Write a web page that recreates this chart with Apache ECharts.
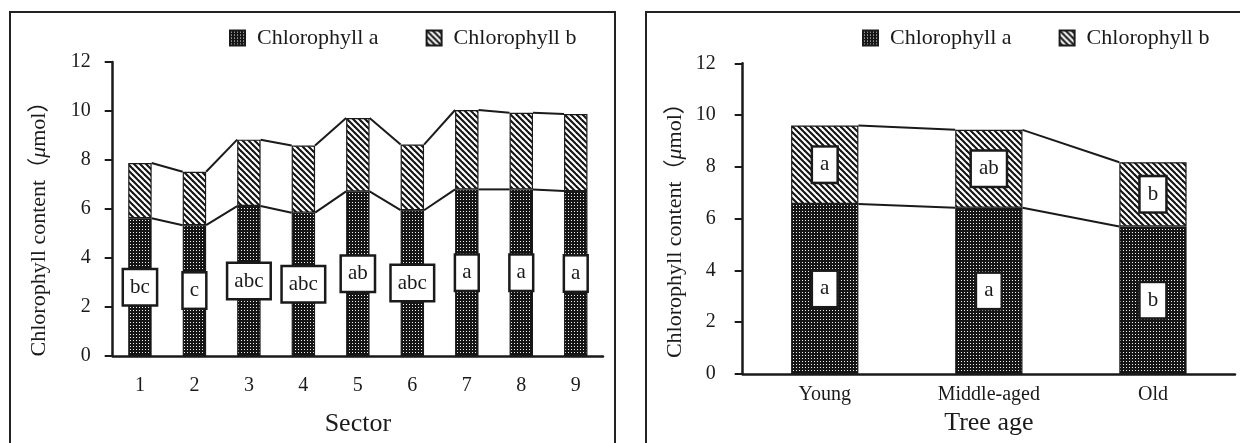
<!DOCTYPE html>
<html>
<head>
<meta charset="utf-8">
<script src="https://cdn.jsdelivr.net/npm/echarts@6/dist/echarts.min.js"></script>
<style>
  html, body { margin: 0; padding: 0; background: #fff; }
  #chart { width: 1240px; height: 443px; }
</style>
</head>
<body>
<div id="chart"></div>
<script>
// ---------- Data ----------
const sectors = ['1', '2', '3', '4', '5', '6', '7', '8', '9'];
const sectorChlA = [5.62, 5.34, 6.12, 5.85, 6.72, 5.95, 6.80, 6.80, 6.73];
const sectorChlB = [2.26, 2.18, 2.71, 2.74, 2.99, 2.68, 3.24, 3.13, 3.15];
const sectorLettersA = ['bc', 'c', 'abc', 'abc', 'ab', 'abc', 'a', 'a', 'a'];

const ages = ['Young', 'Middle-aged', 'Old'];
const ageChlA = [6.57, 6.42, 5.70];
const ageChlB = [3.03, 3.01, 2.48];
const ageLettersA = ['a', 'a', 'b'];
const ageLettersB = ['a', 'ab', 'b'];

const yTicks = { min: 0, max: 12, interval: 2 };
const nameA = 'Chlorophyll a';
const nameB = 'Chlorophyll b';

// ---------- Styles ----------
const FONT = "'Liberation Serif', 'DejaVu Serif', 'Noto Sans CJK SC', serif";
const INK = '#1a1a1a';

function dotPattern() {
  const c = document.createElement('canvas');
  c.width = 3; c.height = 3;
  const g = c.getContext('2d');
  g.fillStyle = '#151515'; g.fillRect(0, 0, 3, 3);
  g.fillStyle = '#f2f2f2'; g.fillRect(1, 1, 1, 1);
  return { image: c, repeat: 'repeat' };
}
function stripePattern() {
  const s = 6;
  const c = document.createElement('canvas');
  c.width = s; c.height = s;
  const g = c.getContext('2d');
  g.fillStyle = '#fff'; g.fillRect(0, 0, s, s);
  g.strokeStyle = '#151515'; g.lineWidth = 2.1;
  for (const k of [-1, 0, 1]) {
    g.beginPath();
    g.moveTo(k * s - 1, -1);
    g.lineTo(k * s + s + 1, s + 1);
    g.stroke();
  }
  return { image: c, repeat: 'repeat' };
}
const fillA = dotPattern();
const fillB = stripePattern();

function cumulative(a, b) { return a.map((v, i) => v + b[i]); }
function lineData(vals) {
  const out = [];
  for (let i = 0; i < vals.length - 1; i++) out.push([i, vals[i], vals[i + 1]]);
  return out;
}
function seriesLineRender(ratio) {
  return function (params, api) {
    const i = api.value(0), v = api.value(1), nv = api.value(2);
    const half = api.size([1, 0])[0] * ratio / 2;
    const p0 = api.coord([i, v]);
    const p1 = api.coord([i + 1, nv]);
    return {
      type: 'line',
      shape: { x1: p0[0] + half, y1: p0[1], x2: p1[0] - half, y2: p1[1] },
      style: { stroke: INK, lineWidth: 2 }
    };
  };
}
function boxLabel(letters, pad) {
  return {
    show: true,
    position: 'inside',
    formatter: p => letters[p.dataIndex],
    color: INK,
    fontFamily: FONT,
    fontSize: 21,
    lineHeight: 22,
    backgroundColor: '#fff',
    borderColor: INK,
    borderWidth: 2.5,
    padding: pad
  };
}
function xAxisCfg(gridIndex, data, name, nameGap, labelMargin) {
  return {
    type: 'category', gridIndex, data, name, nameLocation: 'middle', nameGap,
    nameTextStyle: { fontFamily: FONT, fontSize: 26, color: INK },
    axisLine: { lineStyle: { color: INK, width: 2.5 } },
    axisTick: { length: 9, lineStyle: { color: INK, width: 2 } },
    axisLabel: { margin: labelMargin, fontFamily: FONT, fontSize: 20, color: INK }
  };
}
function yAxisCfg(gridIndex, nameGap, labelMargin, namePad) {
  return {
    type: 'value', gridIndex, min: yTicks.min, max: yTicks.max, interval: yTicks.interval,
    name: 'Chlorophyll content（{i|μ}mol）', nameLocation: 'middle', nameGap,
    nameTextStyle: {
      fontFamily: FONT, fontSize: 22, color: INK, padding: namePad,
      rich: { i: { fontStyle: 'italic', fontFamily: FONT, fontSize: 22, color: INK } }
    },
    splitLine: { show: false },
    axisLine: { show: true, lineStyle: { color: INK, width: 2.5 } },
    axisTick: { show: true, length: 8, lineStyle: { color: INK, width: 2 } },
    axisLabel: { margin: labelMargin, fontFamily: FONT, fontSize: 20, color: INK }
  };
}
function legendCfg(left) {
  return {
    left, top: 27, padding: 0, itemWidth: 15, itemHeight: 15, itemGap: 47,
    icon: 'rect',
    data: [nameA, nameB],
    selectedMode: false,
    textStyle: { fontFamily: FONT, fontSize: 22, color: INK, padding: [0, 0, 0, 7] }
  };
}
const barItem = (fill) => ({ color: fill, borderColor: INK, borderWidth: 1.2 });

const LEFT_BAR = 0.43, RIGHT_BAR = 0.41;

const option = {
  animation: false,
  backgroundColor: '#fff',
  graphic: [
    { type: 'rect', z: -10, shape: { x: 10, y: 12, width: 605, height: 500 },
      style: { fill: 'none', stroke: '#222', lineWidth: 2 } },
    { type: 'rect', z: -10, shape: { x: 646, y: 12, width: 700, height: 500 },
      style: { fill: 'none', stroke: '#222', lineWidth: 2 } }
  ],
  legend: [legendCfg(229), legendCfg(862)],
  grid: [
    { left: 112.7, top: 62, width: 490.3, height: 294 },
    { left: 742.7, top: 63.3, width: 492.3, height: 310.7 }
  ],
  xAxis: [
    xAxisCfg(0, sectors, 'Sector', 55, 20),
    xAxisCfg(1, ages, 'Tree age', 36, 11)
  ],
  yAxis: [
    yAxisCfg(0, 62, 22, [0, 29, 0, 0]),
    yAxisCfg(1, 56, 27, [0, 13, 0, 0])
  ],
  series: [
    { name: nameA, type: 'bar', xAxisIndex: 0, yAxisIndex: 0, stack: 's1', barWidth: (LEFT_BAR * 100) + '%',
      data: sectorChlA, itemStyle: barItem(fillA), label: boxLabel(sectorLettersA, [6, 6]) },
    { name: nameB, type: 'bar', xAxisIndex: 0, yAxisIndex: 0, stack: 's1', barWidth: (LEFT_BAR * 100) + '%',
      data: sectorChlB, itemStyle: barItem(fillB) },
    { name: 'linesA1', type: 'custom', xAxisIndex: 0, yAxisIndex: 0, silent: true, z: 3,
      encode: { x: 0, y: 1 }, renderItem: seriesLineRender(LEFT_BAR), data: lineData(sectorChlA) },
    { name: 'linesT1', type: 'custom', xAxisIndex: 0, yAxisIndex: 0, silent: true, z: 3,
      encode: { x: 0, y: 1 }, renderItem: seriesLineRender(LEFT_BAR), data: lineData(cumulative(sectorChlA, sectorChlB)) },

    { name: nameA, type: 'bar', xAxisIndex: 1, yAxisIndex: 1, stack: 's2', barWidth: (RIGHT_BAR * 100) + '%',
      data: ageChlA, itemStyle: barItem(fillA), label: boxLabel(ageLettersA, [6, 7]) },
    { name: nameB, type: 'bar', xAxisIndex: 1, yAxisIndex: 1, stack: 's2', barWidth: (RIGHT_BAR * 100) + '%',
      data: ageChlB, itemStyle: barItem(fillB), label: boxLabel(ageLettersB, [6, 7]) },
    { name: 'linesA2', type: 'custom', xAxisIndex: 1, yAxisIndex: 1, silent: true, z: 3,
      encode: { x: 0, y: 1 }, renderItem: seriesLineRender(RIGHT_BAR), data: lineData(ageChlA) },
    { name: 'linesT2', type: 'custom', xAxisIndex: 1, yAxisIndex: 1, silent: true, z: 3,
      encode: { x: 0, y: 1 }, renderItem: seriesLineRender(RIGHT_BAR), data: lineData(cumulative(ageChlA, ageChlB)) }
  ]
};

const chart = echarts.init(document.getElementById('chart'), null, { renderer: 'canvas' });
chart.setOption(option);
</script>
</body>
</html>
